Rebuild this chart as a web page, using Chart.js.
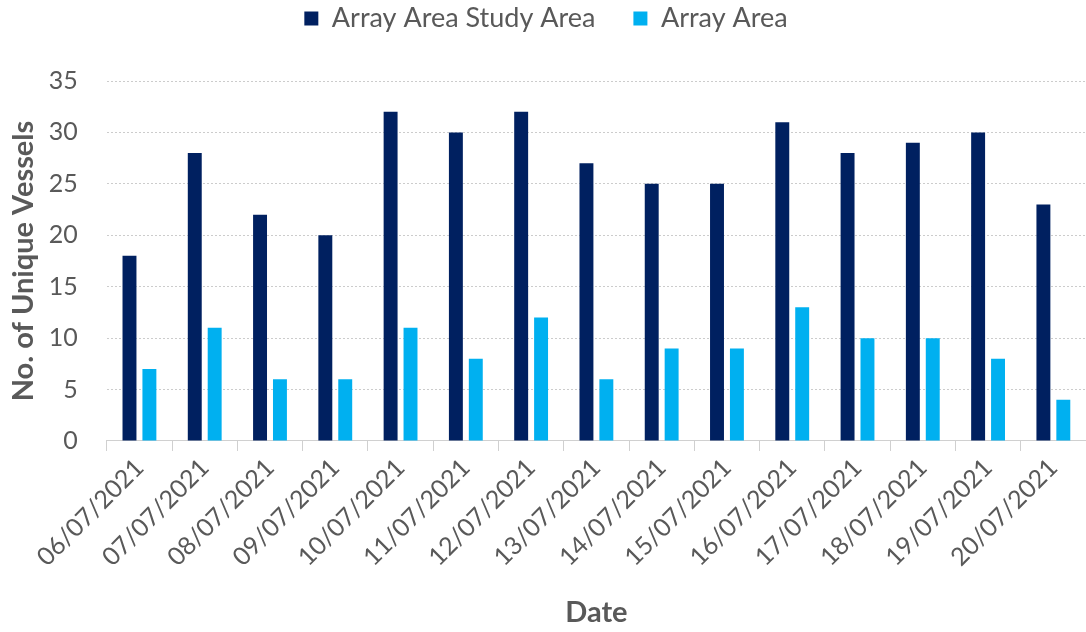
<!DOCTYPE html>
<html>
<head>
<meta charset="utf-8">
<script src="https://cdn.jsdelivr.net/npm/chart.js@4/dist/chart.umd.min.js"></script>
<style>
  html, body { margin: 0; padding: 0; background: #fff; }
  #wrap { width: 1086px; height: 632px; position: relative; }
</style>
</head>
<body>
<div id="wrap"><canvas id="vesselChart"></canvas></div>
<script>
const dates = ['06/07/2021', '07/07/2021', '08/07/2021', '09/07/2021', '10/07/2021',
    '11/07/2021', '12/07/2021', '13/07/2021', '14/07/2021', '15/07/2021',
    '16/07/2021', '17/07/2021', '18/07/2021', '19/07/2021', '20/07/2021'];
const studyArea = [18, 28, 22, 20, 32, 30, 32, 27, 25, 25, 31, 28, 29, 30, 23];
const arrayArea = [7, 11, 6, 6, 11, 8, 12, 6, 9, 9, 13, 10, 10, 8, 4];
const yTicks = [0, 5, 10, 15, 20, 25, 30, 35];

const FONT = 'Lato, "Open Sans", sans-serif';
const GREY = '#595959';

// extra room under the legend, like the spacing in the original
const legendGap = {
    id: 'legendGap',
    beforeInit(chart) {
        const origFit = chart.legend.fit;
        chart.legend.fit = function() {
            origFit.call(this);
            this.height += 39;
        };
    }
};

const ctx = document.getElementById('vesselChart').getContext('2d');
new Chart(ctx, {
    type: 'bar',
    data: {
        labels: dates,
        datasets: [{
            label: 'Array Area Study Area',
            data: studyArea,
            backgroundColor: '#002060',
            categoryPercentage: 0.61,
            barPercentage: 0.7
        }, {
            label: 'Array Area',
            data: arrayArea,
            backgroundColor: '#00B0F0',
            categoryPercentage: 0.61,
            barPercentage: 0.7
        }]
    },
    plugins: [legendGap],
    options: {
        responsive: true,
        maintainAspectRatio: false,
        animation: false,
        layout: { padding: { left: 6, right: 0, top: -33, bottom: 2 } },
        plugins: {
            tooltip: { enabled: false },
            legend: {
                position: 'top',
                labels: {
                    color: GREY,
                    font: { family: FONT, size: 27 },
                    boxWidth: 14,
                    boxHeight: 14,
                    padding: 38
                }
            }
        },
        scales: {
            x: {
                grid: {
                    drawOnChartArea: false,
                    drawTicks: true,
                    tickLength: 10,
                    color: '#d0d0d0'
                },
                border: { display: true, color: '#d0d0d0', width: 1 },
                ticks: {
                    color: GREY,
                    font: { family: FONT, size: 25 },
                    minRotation: 45,
                    maxRotation: 45,
                    autoSkip: false,
                    padding: 2
                },
                title: {
                    display: true,
                    text: 'Date',
                    color: GREY,
                    font: { family: FONT, size: 29, weight: 'bold' },
                    padding: { top: 21, bottom: 0 }
                }
            },
            y: {
                min: 0,
                max: 35,
                afterBuildTicks: function(axis) {
                    axis.ticks = yTicks.map(v => ({ value: v }));
                },
                grid: {
                    color: '#cccccc',
                    drawTicks: false
                },
                border: { display: false, dash: [2, 2] },
                ticks: {
                    color: GREY,
                    font: { family: FONT, size: 25 },
                    padding: 29
                },
                title: {
                    display: true,
                    text: 'No. of Unique Vessels',
                    color: GREY,
                    font: { family: FONT, size: 29, weight: 'bold' },
                    // tick padding is counted twice in the axis width, take it back here
                    padding: { top: 0, bottom: -21 }
                }
            }
        }
    }
});
</script>
</body>
</html>
